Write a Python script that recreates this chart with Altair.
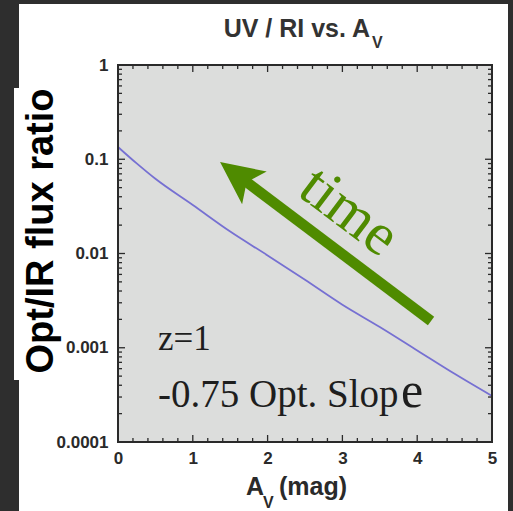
import altair as alt
import pandas as pd

# ---- data ----
av = [0.0, 0.25, 0.5, 1.0, 1.5, 2.0, 2.5, 3.0, 3.5, 4.0, 4.5, 5.0]
ratio = [0.135, 0.0903, 0.0620, 0.0327, 0.0171, 0.00955, 0.00526, 0.00286,
         0.00166, 0.000937, 0.000529, 0.000308]

x_major = [0, 1, 2, 3, 4, 5]
x_minor = [round(i * 0.2, 1) for i in range(26) if i % 5 != 0]
y_major = [1, 0.1, 0.01, 0.001, 0.0001]
y_minor = [k * 10.0 ** e for e in [-4, -3, -2, -1] for k in range(2, 10)]

arrow_av = [4.185, 1.594]
arrow_ratio = [0.00192, 0.0682]
head_av = [1.594]
head_ratio = [0.0682]

time_text = ["time"]
time_av = [2.945]
time_ratio = [0.01953]

note_text = ["z=1", "-0.75 Opt. Slop"]
note_av = [0.535, 0.535]
note_ratio = [0.000946, 0.000235]
note_size = [35, 39]

title_main = "UV / RI vs. A"
title_sub = "V"
xtitle_main = "A"
xtitle_sub = "V"
xtitle_rest = "(mag)"
ytitle = "Opt/IR flux ratio"

W, H = 374, 377
GREEN = "#4f8b00"
INK = "#2a2a2a"

xs = alt.Scale(domain=[0, 5], nice=False, zero=False)
ys = alt.Scale(type="log", domain=[0.0001, 1], nice=False)

one = pd.DataFrame({"k": [0]})
curve = pd.DataFrame({"av": av, "ratio": ratio})

# background panels
panel = alt.Chart(one).mark_rect(color="white").encode(
    x=alt.value(-99), x2=alt.value(390), y=alt.value(-61), y2=alt.value(446))
ybox = alt.Chart(one).mark_rect(color="white").encode(
    x=alt.value(-104), x2=alt.value(-58), y=alt.value(23), y2=alt.value(315))
plotbg = alt.Chart(one).mark_rect(color="#dcdddc").encode(
    x=alt.value(0), x2=alt.value(W), y=alt.value(0), y2=alt.value(H))

label_font = "Liberation Sans"
line = alt.Chart(curve).mark_line(color="#7670d2", strokeWidth=1.8, interpolate="monotone").encode(
    x=alt.X("av:Q", scale=xs, axis=alt.Axis(values=x_major, format="d", title=None, tickSize=0,
                                            domain=False, grid=False, labelFont=label_font,
                                            labelFontSize=17, labelFontWeight="bold",
                                            labelColor=INK, labelPadding=8, labelFlush=False,
                                            zindex=1)),
    y=alt.Y("ratio:Q", scale=ys, axis=alt.Axis(values=y_major, format=".4~f", title=None, tickSize=0,
                                               domain=False, grid=False, labelFont=label_font,
                                               labelFontSize=17, labelFontWeight="bold",
                                               labelColor=INK, labelPadding=10, labelFlush=False,
                                               zindex=1)),
)

def yticks(vals, length):
    d = pd.DataFrame({"ratio": vals})
    left = alt.Chart(d).mark_rule(color=INK, strokeWidth=1.3).encode(
        y=alt.Y("ratio:Q", scale=ys), x=alt.value(0), x2=alt.value(length))
    right = alt.Chart(d).mark_rule(color=INK, strokeWidth=1.3).encode(
        y=alt.Y("ratio:Q", scale=ys), x=alt.value(W - length), x2=alt.value(W))
    return [left, right]

def xticks(vals, length):
    d = pd.DataFrame({"av": vals})
    bottom = alt.Chart(d).mark_rule(color=INK, strokeWidth=1.3).encode(
        x=alt.X("av:Q", scale=xs), y=alt.value(H - length), y2=alt.value(H))
    top = alt.Chart(d).mark_rule(color=INK, strokeWidth=1.3).encode(
        x=alt.X("av:Q", scale=xs), y=alt.value(0), y2=alt.value(length))
    return [bottom, top]

ticks = yticks(y_major, 7) + yticks(y_minor, 4) + xticks(x_major, 7) + xticks(x_minor, 4)

frame = alt.Chart(one).mark_rect(filled=False, stroke=INK, strokeWidth=2).encode(
    x=alt.value(0), x2=alt.value(W), y=alt.value(0), y2=alt.value(H))

shaft = alt.Chart(pd.DataFrame({"av": arrow_av, "ratio": arrow_ratio})).mark_line(
    color=GREEN, strokeWidth=10.5, strokeCap="butt").encode(
    x=alt.X("av:Q", scale=xs), y=alt.Y("ratio:Q", scale=ys))
head = alt.Chart(pd.DataFrame({"av": head_av, "ratio": head_ratio})).mark_point(
    shape="M0,-1L0.95,1L0,0.55L-0.95,1Z", size=1849, angle=307, filled=True,
    color=GREEN, opacity=1, strokeWidth=0).encode(
    x=alt.X("av:Q", scale=xs), y=alt.Y("ratio:Q", scale=ys))

time_lbl = alt.Chart(pd.DataFrame({"av": time_av, "ratio": time_ratio, "t": time_text})).mark_text(
    font="Liberation Serif", fontSize=60, color=GREEN, angle=37, align="center",
    baseline="alphabetic").encode(
    x=alt.X("av:Q", scale=xs), y=alt.Y("ratio:Q", scale=ys), text="t:N")

notes = alt.Chart(pd.DataFrame({"av": note_av, "ratio": note_ratio, "t": note_text, "s": note_size})).mark_text(
    font="Liberation Serif", color="#1e1e1e", align="left", baseline="alphabetic").encode(
    x=alt.X("av:Q", scale=xs), y=alt.Y("ratio:Q", scale=ys), text="t:N",
    size=alt.Size("s:Q", scale=None, legend=None))
big_e = alt.Chart(pd.DataFrame({"av": [note_av[1]], "ratio": [note_ratio[1]]})).mark_text(
    font="Liberation Serif", color="#1e1e1e", fontSize=50, align="left", baseline="alphabetic",
    dx=243, text="e").encode(
    x=alt.X("av:Q", scale=xs), y=alt.Y("ratio:Q", scale=ys))

def txt(s, x, y, size, **kw):
    return alt.Chart(one).mark_text(text=s, fontSize=size, font=label_font, fontWeight="bold",
                                    baseline="alphabetic", **kw).encode(
        x=alt.value(x), y=alt.value(y))

t1 = txt(title_main, 252, -28, 25, align="right", color="#333333")
t2 = txt(title_sub, 254, -17, 16, align="left", color="#333333")
x1 = txt(xtitle_main, 128, 430, 25, align="left", color=INK)
x2 = txt(xtitle_sub, 145, 443, 16, align="left", color=INK)
x3 = txt(xtitle_rest, 161, 430, 25, align="left", color=INK)
yt = txt(ytitle, -65, 166, 38, align="center", color="black", angle=270)

chart = alt.layer(
    panel, ybox, plotbg, line, *ticks, frame, shaft, head, time_lbl, notes, big_e,
    t1, t2, x1, x2, x3, yt
).properties(
    width=W, height=H, background="#2e2e2e",
    padding={"left": 118, "top": 65, "right": 21, "bottom": 69},
    autosize=alt.AutoSizeParams(type="none"),
).configure_view(strokeWidth=0)

chart.save("out.html", embed_options={"renderer": "svg", "actions": False})
